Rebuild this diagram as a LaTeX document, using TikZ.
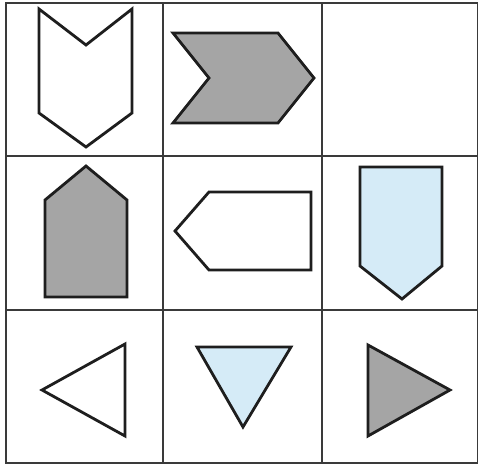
\documentclass[tikz,border=0pt]{standalone}
\usepackage{tikz}
\definecolor{shapegray}{HTML}{A5A5A5}
\definecolor{shapeblue}{HTML}{D5EBF7}
\definecolor{gridcol}{HTML}{3A3A3A}
\definecolor{linecol}{HTML}{1E1E1E}
\tikzset{
  gridline/.style={draw=gridcol, line width=1.6pt},
  shapeline/.style={draw=linecol, line width=2.8pt, line join=miter},
  whiteshape/.style={shapeline, fill=white},
  grayshape/.style={shapeline, fill=shapegray},
  blueshape/.style={shapeline, fill=shapeblue}
}
\begin{document}
\begin{tikzpicture}[x=1pt,y=-1pt]
\useasboundingbox[fill=white] (0,0) rectangle (479,468);
% grid
\draw[gridline] (6,3) rectangle (477.5,463);
\draw[gridline] (163,3) -- (163,463);
\draw[gridline] (322,3) -- (322,463);
\draw[gridline] (6,156) -- (477.5,156);
\draw[gridline] (6,310) -- (477.5,310);
% row 1
\draw[whiteshape] (39,9) -- (86,45) -- (132,9) -- (132,113) -- (86,147) -- (39,113) -- cycle;
\draw[grayshape] (173,33) -- (278,33) -- (314,78) -- (278,123) -- (173,123) -- (209,78) -- cycle;
% row 2
\draw[grayshape] (45,297) -- (127,297) -- (127,200) -- (86,166) -- (45,200) -- cycle;
\draw[whiteshape] (175,231) -- (209,192) -- (311,192) -- (311,270) -- (209,270) -- cycle;
\draw[blueshape] (360,167) -- (442,167) -- (442,266) -- (402,299) -- (360,266) -- cycle;
% row 3
\draw[whiteshape] (42,390) -- (125,344) -- (125,436) -- cycle;
\draw[blueshape] (197,347) -- (291,347) -- (243,427) -- cycle;
\draw[grayshape] (368,345) -- (450,390) -- (368,436) -- cycle;
\end{tikzpicture}
\end{document}
